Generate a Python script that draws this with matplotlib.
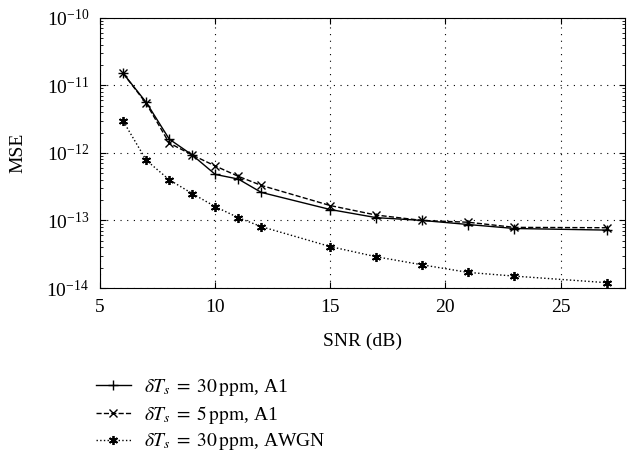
import numpy as np
import matplotlib
matplotlib.use("Agg")
import matplotlib.pyplot as plt
from matplotlib.ticker import LogLocator, NullFormatter

plt.rcParams['font.family'] = ['Liberation Serif', 'DejaVu Serif']
plt.rcParams['mathtext.fontset'] = 'stix'

# SNR (dB)
snr = [6, 7, 8, 9, 10, 11, 12, 15, 17, 19, 21, 23, 27]
# MSE curves
mse_30ppm_a1 = [1.5e-11, 5.6e-12, 1.6e-12, 9.3e-13, 4.8e-13, 4.1e-13, 2.6e-13,
                1.45e-13, 1.1e-13, 1.0e-13, 8.7e-14, 7.6e-14, 7.2e-14]
mse_5ppm_a1 = [1.5e-11, 5.4e-12, 1.4e-12, 9.3e-13, 6.4e-13, 4.5e-13, 3.3e-13,
               1.66e-13, 1.2e-13, 1.0e-13, 9.4e-14, 7.9e-14, 7.8e-14]
mse_30ppm_awgn = [2.95e-12, 7.8e-13, 4.0e-13, 2.5e-13, 1.6e-13, 1.1e-13, 8.1e-14,
                  4.1e-14, 2.9e-14, 2.2e-14, 1.7e-14, 1.5e-14, 1.2e-14]
labels = [r'$\delta T_s\;=\;30\,\mathrm{ppm}$, A1',
          r'$\delta T_s\;=\;5\,\mathrm{ppm}$, A1',
          r'$\delta T_s\;=\;30\,\mathrm{ppm}$, AWGN']

fs = 14

fig = plt.figure(figsize=(6.3, 4.55), dpi=100)
ax = fig.add_axes([0.159, 0.367, 0.833, 0.594])

l1, = ax.semilogy(snr, mse_30ppm_a1, 'k-', marker='+', ms=7, mew=1.0, lw=1.0, label=labels[0])
l2, = ax.semilogy(snr, mse_5ppm_a1, 'k--', marker='x', ms=5.5, mew=1.0, lw=1.0, label=labels[1])
l3, = ax.semilogy(snr, mse_30ppm_awgn, 'k:', marker=(6, 2, 0), ms=6.5, mew=1.3, lw=1.0, label=labels[2])

ax.set_xlim(5, 27.8)
ax.set_ylim(1e-14, 1e-10)
ax.set_xticks([5, 10, 15, 20, 25])
ax.yaxis.set_major_locator(LogLocator(base=10, numticks=10))
ax.yaxis.set_minor_locator(LogLocator(base=10, subs=np.arange(2, 10), numticks=10))
ax.yaxis.set_minor_formatter(NullFormatter())
ax.grid(True, which='major', linestyle=(0, (1, 5)), color='k', lw=0.8)
ax.tick_params(which='both', direction='in', top=True, right=True, labelsize=fs)
ax.tick_params(axis='y', which='major', length=4, pad=8)
ax.tick_params(axis='x', which='major', length=4, pad=8)
ax.tick_params(which='minor', length=2)
for s in ax.spines.values():
    s.set_linewidth(0.8)

ax.set_xlabel('SNR (dB)', fontsize=fs)
ax.set_ylabel('MSE', fontsize=fs)
ax.xaxis.set_label_coords(0.5, -0.167, transform=ax.transAxes)
ax.yaxis.set_label_coords(-0.14, 0.5, transform=ax.transAxes)

fig.legend(handles=[l1, l2, l3], loc='upper left', bbox_to_anchor=(0.152, 0.172),
           frameon=False, fontsize=fs, handlelength=1.8, labelspacing=0.3,
           handletextpad=0.7, borderaxespad=0, borderpad=0)

fig.savefig('out.png', dpi=100)
